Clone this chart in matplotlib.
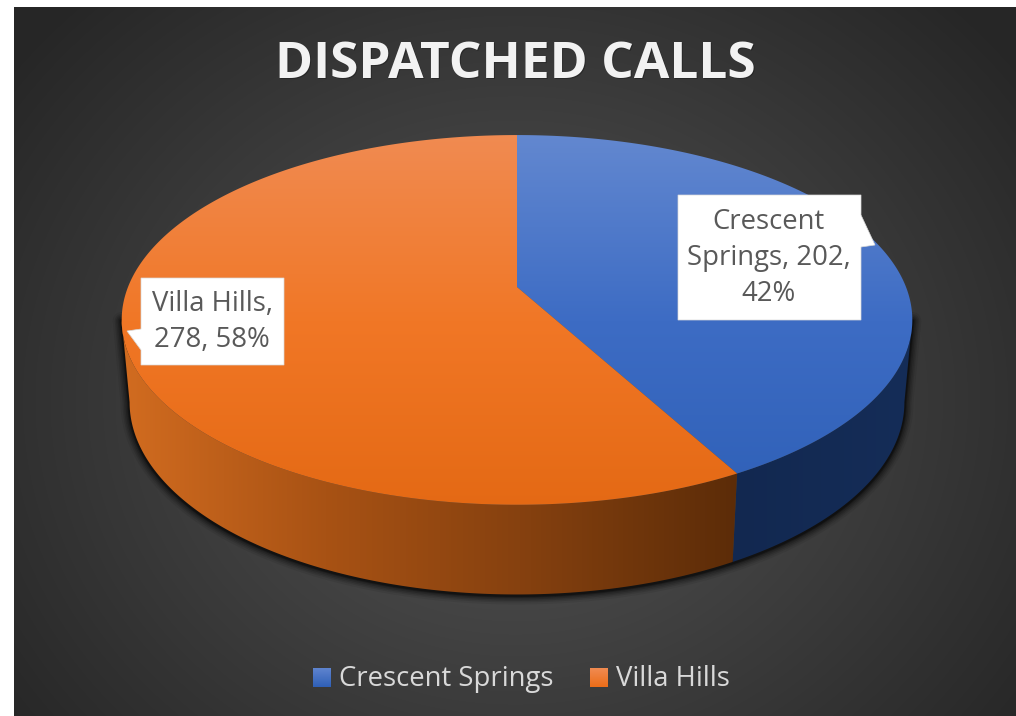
import numpy as np
import matplotlib
matplotlib.use("Agg")
import matplotlib.pyplot as plt
from matplotlib.colors import LinearSegmentedColormap
from matplotlib.patches import Polygon

# Chart values
categories = ["Crescent Springs", "Villa Hills"]
calls = [202, 278]
percents = ["42%", "58%"]
title = "DISPATCHED CALLS"

W, H = 1016, 716
FONT = "Open Sans"

# Pie geometry, in pixels of the figure
CX, CY = 517, 287
BX, AY, K = 389, 179, 0.178
DEPTH_CY, DEPTH_SX, DEPTH_SY = 368, 0.98, 1.04


def project(theta, bottom=False):
    """Clockwise angle from 12 o'clock -> pixel position on the tilted disc."""
    u, v = np.sin(theta), -np.cos(theta)
    w = 1 - K * v
    x, y = BX * u / w, AY * v / w
    if bottom:
        return CX + DEPTH_SX * x, DEPTH_CY + DEPTH_SY * y
    return CX + x, CY + y


def gradient(ax, clip, extent, colors, horizontal=False, zorder=2):
    cmap = LinearSegmentedColormap.from_list("g", colors)
    ramp = np.linspace(0, 1, 256)
    ramp = ramp.reshape(1, -1) if horizontal else ramp.reshape(-1, 1)
    im = ax.imshow(ramp, cmap=cmap, extent=extent, origin="upper",
                   aspect="auto", zorder=zorder, interpolation="bilinear")
    if clip is not None:
        clip.set_transform(ax.transData)
        im.set_clip_path(clip)
    return im


fig = plt.figure(figsize=(W / 100, H / 100), dpi=100, facecolor="white")
ax = fig.add_axes([0, 0, 1, 1])
ax.axis("off")

# Background: dark radial gradient
yy, xx = np.mgrid[7:H, 14:W]
dist = np.hypot((xx - 515) / 640, (yy - 400) / 560)
ax.imshow(np.clip(dist, 0, 1), cmap=LinearSegmentedColormap.from_list("bg", ["#565656", "#262626"]),
          vmin=0, vmax=1, extent=(14, W, H, 7), aspect="auto", zorder=0)

# Wedge angles come from the values
fractions = np.array(calls) / sum(calls)
edges = np.concatenate([[0], np.cumsum(fractions)]) * 2 * np.pi

# The side wall starts where the disc is widest
right_limit = np.arccos(-K)
left_limit = 2 * np.pi - right_limit

# Soft shadow along the outline of the side wall
t = np.linspace(right_limit, left_limit, 400)
bx, by = project(t, bottom=True)
rx, ry = project(right_limit)
lx0, ly0 = project(left_limit)
sx = np.r_[rx, bx, lx0]
sy = np.r_[ry, by, ly0]
for grow, alpha in zip([18, 14, 11, 8, 5, 3], [0.07, 0.1, 0.13, 0.17, 0.24, 0.35]):
    ax.plot(sx, sy + 1, color="black", lw=grow * 0.72, alpha=alpha, zorder=1,
            solid_capstyle="round", solid_joinstyle="round")

top_colors = [["#6388d0", "#3d6cc4", "#2f60b7"], ["#f08b52", "#f17726", "#e46914"]]
side_colors = [["#122850", "#152d58"], ["#d26c20", "#a85214", "#84400f", "#5c2c08"]]
side_extent = [(731, 912, 600, 300), (120, 737, 600, 300)]

# Sides, drawn only where the wedge faces the viewer
side_ranges = [(right_limit, edges[1]), (edges[1], left_limit)]
for (a, b), cols, ext in zip(side_ranges, side_colors, side_extent):
    th = np.linspace(a, b, 200)
    tx, ty = project(th)
    lx, ly = project(th[::-1], bottom=True)
    clip = Polygon(np.r_[np.c_[tx, ty], np.c_[lx, ly]], closed=True)
    gradient(ax, clip, ext, cols, horizontal=True, zorder=2)

# Top faces
for i in range(2):
    th = np.linspace(edges[i], edges[i + 1], 300)
    fx, fy = project(th)
    clip = Polygon(np.r_[[[CX, CY]], np.c_[fx, fy]], closed=True)
    gradient(ax, clip, (110, 920, 510, 132), top_colors[i], zorder=3)

# Data label callouts
callouts = [
    [(678, 195), (861, 195), (861, 215), (875, 245), (861, 247), (861, 320), (678, 320)],
    [(141, 278), (284, 278), (284, 365), (141, 365), (141, 350), (127, 331), (141, 329)],
]
label_text = [f"Crescent\nSprings, {calls[0]},\n{percents[0]}",
              f"{categories[1]},\n{calls[1]}, {percents[1]}"]
label_pos = [(769, 258), (212, 322)]
for pts, txt, pos in zip(callouts, label_text, label_pos):
    ax.add_patch(Polygon(pts, closed=True, fc="white", ec="#d9d9d9", lw=0.5, zorder=4))
    ax.text(pos[0], pos[1], txt, ha="center", va="center", color="#595959",
            fontsize=19.8, family=FONT, linespacing=1.38, zorder=5)

# Title with a small shadow
ax.text(516, 66, title, ha="center", va="center", color="#1c1c1c", alpha=0.55,
        fontsize=37, family=FONT, fontweight="bold", zorder=5)
ax.text(515, 65, title, ha="center", va="center", color="#f2f2f2",
        fontsize=37, family=FONT, fontweight="bold", zorder=6)

# Legend
legend_x = [313, 590]
legend_grad = [["#5f84cf", "#2f60b7"], ["#f08b52", "#ec6d18"]]
for name, x0, cols in zip(categories, legend_x, legend_grad):
    gradient(ax, None, (x0, x0 + 18, 687, 668), cols, zorder=5)
    ax.text(x0 + 26, 679, name, ha="left", va="center", color="#d9d9d9",
            fontsize=19.8, family=FONT, zorder=5)

ax.set_xlim(0, W)
ax.set_ylim(H, 0)
fig.savefig("out.png", dpi=100, facecolor="white")
